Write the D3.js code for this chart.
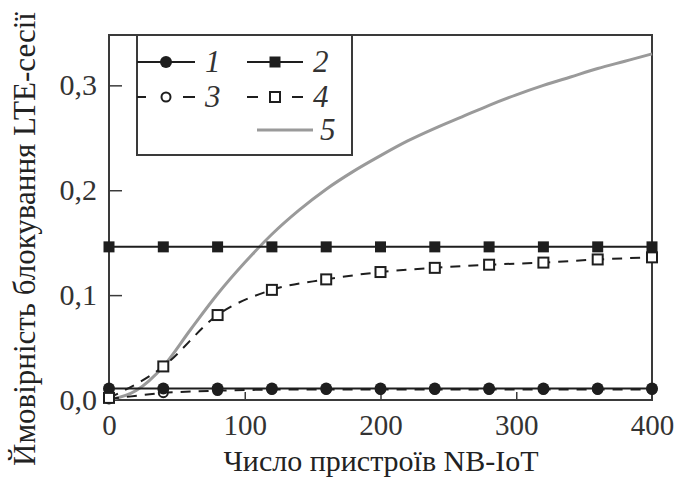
<!DOCTYPE html>
<html><head><meta charset="utf-8">
<script src="https://cdn.jsdelivr.net/npm/d3@7"></script>
<style>body{margin:0;background:#fff}svg{display:block}</style>
</head><body>
<svg id="c" width="681" height="479"></svg>
<script>
const xMarkers = [0,40,80,120,160,200,240,280,320,360,400];
const s1 = [0.011,0.011,0.011,0.011,0.011,0.011,0.011,0.011,0.011,0.011,0.011];
const s2 = [0.146,0.146,0.146,0.146,0.146,0.146,0.146,0.146,0.146,0.146,0.146];
const s3 = [0.001,0.007,0.009,0.010,0.010,0.010,0.010,0.010,0.010,0.010,0.010];
const s4 = [0.002,0.032,0.081,0.105,0.115,0.122,0.126,0.129,0.131,0.134,0.136];
const x5 = [0,20,40,60,80,100,120,140,160,180,200,220,240,260,280,300,320,340,360,380,400];
const s5 = [0,0.009,0.032,0.067,0.101,0.131,0.158,0.181,0.201,0.218,0.233,0.247,0.259,0.270,0.281,0.291,0.300,0.308,0.316,0.323,0.330];
const xTicks = [0,100,200,300,400];
const yTicks = [0,0.1,0.2,0.3];
const legendLabels = ["1","2","3","4","5"];
const xTitle = "Число пристроїв NB-IoT";
const yTitle = "Ймовірність блокування LTE-сесії";

const svg = d3.select("#c");
const L=109,R=652,T=35,B=400;
const x = d3.scaleLinear().domain([0,400]).range([L,R]);
const y = d3.scaleLinear().domain([0,0.348]).range([B,T]);
const font = "'Liberation Serif','DejaVu Serif',serif";
const dark = "#1e1e1e";

// frame
svg.append("rect").attr("x",L).attr("y",T).attr("width",R-L).attr("height",B-T)
  .attr("fill","none").attr("stroke","#3a3a3a").attr("stroke-width",2);

// axes (inward ticks)
const xAxis = d3.axisBottom(x).tickValues(xTicks).tickSize(-8).tickPadding(14)
  .tickFormat(d=>String(d));
const gx = svg.append("g").attr("transform",`translate(0,${B})`).call(xAxis);
gx.select(".domain").remove();
gx.selectAll(".tick line").attr("stroke","#3a3a3a").attr("stroke-width",1.5)
  .style("display",(d)=> (d===0||d===400)?"none":null);
gx.selectAll("text").attr("font-family",font).attr("font-size",29).attr("fill","#333").attr("dy","0.71em");

const yAxis = d3.axisLeft(y).tickValues(yTicks).tickSize(-13).tickPadding(12)
  .tickFormat(d=>d3.format(".1f")(d).replace(".",","));
const gy = svg.append("g").attr("transform",`translate(${L},0)`).call(yAxis);
gy.select(".domain").remove();
gy.selectAll(".tick line").attr("stroke","#3a3a3a").attr("stroke-width",1.5)
  .style("display",(d)=> d===0?"none":null);
gy.selectAll("text").attr("font-family",font).attr("font-size",30).attr("fill","#333");

// titles
svg.append("text").attr("x",381).attr("y",471).attr("text-anchor","middle")
  .attr("font-family",font).attr("font-size",30).attr("fill","#222").text(xTitle);
svg.append("text").attr("transform","translate(35,239) rotate(-90)").attr("text-anchor","middle")
  .attr("font-family",font).attr("font-size",31).attr("fill","#222").text(yTitle);

const line = d3.line().x(d=>x(d[0])).y(d=>y(d[1]));
const smooth = d3.line().x(d=>x(d[0])).y(d=>y(d[1])).curve(d3.curveMonotoneX);
const zip = (xs,ys)=>xs.map((v,i)=>[v,ys[i]]);

// series 5 gray curve
svg.append("path").datum(zip(x5,s5)).attr("d",smooth)
  .attr("fill","none").attr("stroke","#9a9a9a").attr("stroke-width",3);

// series 4 dashed
svg.append("path").datum(zip(xMarkers,s4)).attr("d",smooth)
  .attr("fill","none").attr("stroke",dark).attr("stroke-width",2).attr("stroke-dasharray","10,8");
// series 3 dashed with open circles
svg.append("path").datum(zip(xMarkers,s3)).attr("d",line)
  .attr("fill","none").attr("stroke",dark).attr("stroke-width",2).attr("stroke-dasharray","10,8");
svg.selectAll(".m3").data(zip(xMarkers,s3)).join("circle")
  .attr("cx",d=>x(d[0])).attr("cy",d=>y(d[1])).attr("r",4.5)
  .attr("fill","#fff").attr("stroke",dark).attr("stroke-width",2);

// series 2 solid with filled squares
svg.append("path").datum(zip(xMarkers,s2)).attr("d",line)
  .attr("fill","none").attr("stroke",dark).attr("stroke-width",2);
svg.selectAll(".m2").data(zip(xMarkers,s2)).join("rect")
  .attr("x",d=>x(d[0])-5.5).attr("y",d=>y(d[1])-5.5).attr("width",11).attr("height",11)
  .attr("fill",dark);

// series 1 solid with filled circles
svg.append("path").datum(zip(xMarkers,s1)).attr("d",line)
  .attr("fill","none").attr("stroke",dark).attr("stroke-width",2);
svg.selectAll(".m1").data(zip(xMarkers,s1)).join("circle")
  .attr("cx",d=>x(d[0])).attr("cy",d=>y(d[1])).attr("r",6).attr("fill",dark);

// series 4 open squares
svg.selectAll(".m4").data(zip(xMarkers,s4)).join("rect")
  .attr("x",d=>x(d[0])-5).attr("y",d=>y(d[1])-5).attr("width",10).attr("height",10)
  .attr("fill","#fff").attr("stroke",dark).attr("stroke-width",2);

// legend
const lg = svg.append("g");
lg.append("rect").attr("x",137).attr("y",T).attr("width",215).attr("height",120)
  .attr("fill","#fff").attr("stroke","#3a3a3a").attr("stroke-width",2);
const items = [
  {x1:137,x2:195,y:62,mk:"fc",dash:null,lx:205,c:dark},
  {x1:247,x2:303,y:62,mk:"fs",dash:null,lx:313,c:dark},
  {x1:137,x2:195,y:97,mk:"oc",dash:"9,37,12",lx:205,c:dark},
  {x1:247,x2:303,y:97,mk:"os",dash:"11,34,11",lx:313,c:dark},
  {x1:257,x2:313,y:130,mk:null,dash:null,lx:320,c:"#9a9a9a"}
];
items.forEach((it,i)=>{
  lg.append("line").attr("x1",it.x1).attr("x2",it.x2).attr("y1",it.y).attr("y2",it.y)
    .attr("stroke",it.c).attr("stroke-width",it.mk?2:3).attr("stroke-dasharray",it.dash);
  const cx=(it.x1+it.x2)/2;
  if(it.mk==="fc") lg.append("circle").attr("cx",cx).attr("cy",it.y).attr("r",6).attr("fill",dark);
  if(it.mk==="fs") lg.append("rect").attr("x",cx-5.5).attr("y",it.y-5.5).attr("width",11).attr("height",11).attr("fill",dark);
  if(it.mk==="oc") lg.append("circle").attr("cx",cx).attr("cy",it.y).attr("r",4.5).attr("fill","#fff").attr("stroke",dark).attr("stroke-width",2);
  if(it.mk==="os") lg.append("rect").attr("x",cx-5).attr("y",it.y-5).attr("width",10).attr("height",10).attr("fill","#fff").attr("stroke",dark).attr("stroke-width",2);
  lg.append("text").attr("x",it.lx).attr("y",it.y+10).attr("font-family",font).attr("font-style","italic")
    .attr("font-size",31).attr("fill","#333").text(legendLabels[i]);
});
</script>
</body></html>
